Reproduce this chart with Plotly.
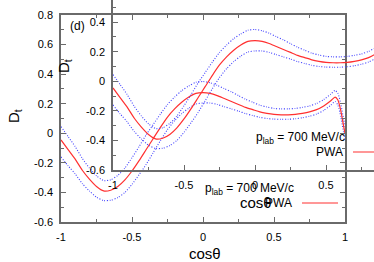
import plotly.graph_objects as go

# cos(theta) grid and D_t values (PWA central curve and error band)
cos_theta = [-1, -0.95, -0.9, -0.85, -0.8, -0.75, -0.7, -0.65, -0.6, -0.55, -0.5, -0.45,
             -0.4, -0.35, -0.3, -0.25, -0.2, -0.15, -0.1, -0.05, 0, 0.05, 0.1, 0.15, 0.2,
             0.25, 0.3, 0.35, 0.4, 0.45, 0.5, 0.55, 0.6, 0.65, 0.7, 0.75, 0.8, 0.85, 0.9,
             0.93, 0.95, 0.97, 0.99, 1.0]
dt_center = [-0.045, -0.11, -0.175, -0.25, -0.31, -0.36, -0.39, -0.385, -0.36, -0.315, -0.255,
             -0.185, -0.11, -0.035, 0.04, 0.11, 0.165, 0.21, 0.245, 0.27, 0.275, 0.27, 0.255,
             0.235, 0.215, 0.195, 0.175, 0.16, 0.145, 0.135, 0.128, 0.125, 0.125, 0.128, 0.135,
             0.145, 0.16, 0.185, 0.22, 0.245, 0.225, 0.155, 0.05, 0.0]
dt_upper = [0.045, -0.022, -0.09, -0.17, -0.235, -0.288, -0.32, -0.315, -0.285, -0.235, -0.165,
            -0.09, -0.01, 0.06, 0.13, 0.195, 0.245, 0.288, 0.32, 0.345, 0.35, 0.342, 0.325,
            0.302, 0.28, 0.255, 0.23, 0.21, 0.19, 0.178, 0.168, 0.165, 0.165, 0.168, 0.175,
            0.185, 0.202, 0.228, 0.265, 0.29, 0.27, 0.2, 0.095, 0.045]
dt_lower = [-0.16, -0.22, -0.275, -0.34, -0.39, -0.432, -0.455, -0.453, -0.435, -0.4, -0.345,
            -0.28, -0.21, -0.13, -0.05, 0.025, 0.085, 0.133, 0.17, 0.198, 0.205, 0.205, 0.195,
            0.18, 0.165, 0.15, 0.133, 0.12, 0.108, 0.1, 0.096, 0.095, 0.095, 0.098, 0.105,
            0.115, 0.13, 0.155, 0.19, 0.215, 0.19, 0.115, 0.005, -0.045]

x_major = [-1, -0.5, 0, 0.5, 1]
x_major_text = ["-1", "-0.5", "0", "0.5", "1"]
x_minor = [-0.75, -0.25, 0.25, 0.75]
y_major = [-0.6, -0.4, -0.2, 0, 0.2, 0.4, 0.6, 0.8]
y_major_text = ["-0.6", "-0.4", "-0.2", "0", "0.2", "0.4", "0.6", "0.8"]
y_minor = [-0.5, -0.3, -0.1, 0.1, 0.3, 0.5, 0.7]

legend_title = "p<sub>lab</sub> = 700 MeV/c"
legend_label = "PWA"

W, H = 374, 262
FONT = "Liberation Sans, Arial, Helvetica, sans-serif"
AXCOL = "#6a6a6a"
RED = "#ff3030"
BLUE = "#4646ff"


def px(x):
    return x / W


def py(y):
    return 1 - y / H


fig = go.Figure()

for xa, ya in (("x", "y"), ("x2", "y2")):
    for band in (dt_upper, dt_lower):
        fig.add_trace(go.Scatter(x=cos_theta, y=band, mode="lines", xaxis=xa, yaxis=ya,
                                 line=dict(color=BLUE, width=1.1, dash="1px,1.6px",
                                           shape="spline", smoothing=0.6),
                                 showlegend=False, hoverinfo="skip"))
    fig.add_trace(go.Scatter(x=cos_theta, y=dt_center, mode="lines", xaxis=xa, yaxis=ya,
                             line=dict(color=RED, width=1.2, shape="spline", smoothing=0.6),
                             showlegend=False, hoverinfo="skip"))

tickfont = dict(family=FONT, size=11, color="black")

common = dict(showgrid=False, zeroline=False, showline=True, linecolor=AXCOL, linewidth=1.5,
              ticks="inside", ticklen=5, tickcolor=AXCOL, tickwidth=1, tickfont=tickfont,
              ticklabelstandoff=4)

# outer panel: x 61..345 px, y 15..222 px
fig.update_layout(
    xaxis=dict(domain=[px(61), px(345)], range=[-1, 1], anchor="y", mirror="allticks",
               tickmode="array", tickvals=x_major, ticktext=x_major_text,
               minor=dict(tickvals=x_minor, ticks="inside", ticklen=3, tickcolor=AXCOL),
               **common),
    yaxis=dict(domain=[py(222), py(15)], range=[-0.6, 0.8], anchor="x", mirror="allticks",
               tickmode="array", tickvals=y_major, ticktext=y_major_text,
               minor=dict(tickvals=y_minor, ticks="inside", ticklen=3, tickcolor=AXCOL),
               **common),
    # inner (shifted) panel: starts at x=113 px, bottom at y=170 px, runs off the page
    xaxis2=dict(domain=[px(113), 1.0], range=[-1, -1 + 261 / 142.0], anchor="y2", mirror=False,
                tickmode="array", tickvals=x_major[:-1], ticktext=x_major_text[:-1],
                minor=dict(tickvals=x_minor, ticks="inside", ticklen=3, tickcolor=AXCOL),
                **common),
    yaxis2=dict(domain=[py(170), 1.0], range=[-0.6, -0.6 + 170 / 147.9], anchor="x2", mirror=False,
                tickmode="array", tickvals=y_major[:6], ticktext=y_major_text[:6],
                minor=dict(tickvals=y_minor[:6], ticks="inside", ticklen=3, tickcolor=AXCOL),
                **common),
    width=W, height=H,
    margin=dict(l=0, r=0, t=0, b=0, autoexpand=False),
    paper_bgcolor="white", plot_bgcolor="rgba(0,0,0,0)",
    showlegend=False,
)

ann = []
title_font = dict(family=FONT, size=15, color="black")
small_font = dict(family=FONT, size=12, color="black")
for dx, dy in ((0, 0), (51, -51)):
    ann.append(dict(x=px(205 + dx), y=py(253 + dy), xref="paper", yref="paper", text="cos\u03b8",
                    showarrow=False, font=title_font, xanchor="center", yanchor="middle"))
    ann.append(dict(x=px(296 + dx), y=py(189 + dy), xref="paper", yref="paper", text=legend_title,
                    showarrow=False, font=small_font, xanchor="right", yanchor="middle"))
    ann.append(dict(x=px(294 + dx), y=py(203 + dy), xref="paper", yref="paper", text=legend_label,
                    showarrow=False, font=small_font, xanchor="right", yanchor="middle"))
    fig.add_shape(type="line", xref="paper", yref="paper",
                  x0=px(302 + dx), x1=px(338 + dx), y0=py(203 + dy), y1=py(203 + dy),
                  line=dict(color=RED, width=1.2))

ann.append(dict(x=px(14), y=py(116), xref="paper", yref="paper", text="D<sub>t</sub>",
                showarrow=False, font=title_font, textangle=-90, xanchor="center", yanchor="middle"))
ann.append(dict(x=px(64), y=py(66), xref="paper", yref="paper", text="D<sub>t</sub>",
                showarrow=False, font=title_font, textangle=-90, xanchor="center", yanchor="middle"))
ann.append(dict(x=px(77), y=py(26), xref="paper", yref="paper", text="(d)",
                showarrow=False, font=small_font, xanchor="center", yanchor="middle"))

fig.update_layout(annotations=ann)

fig.write_html("out.html", config={"displayModeBar": False},
               post_script="document.body.style.margin='0px';")
